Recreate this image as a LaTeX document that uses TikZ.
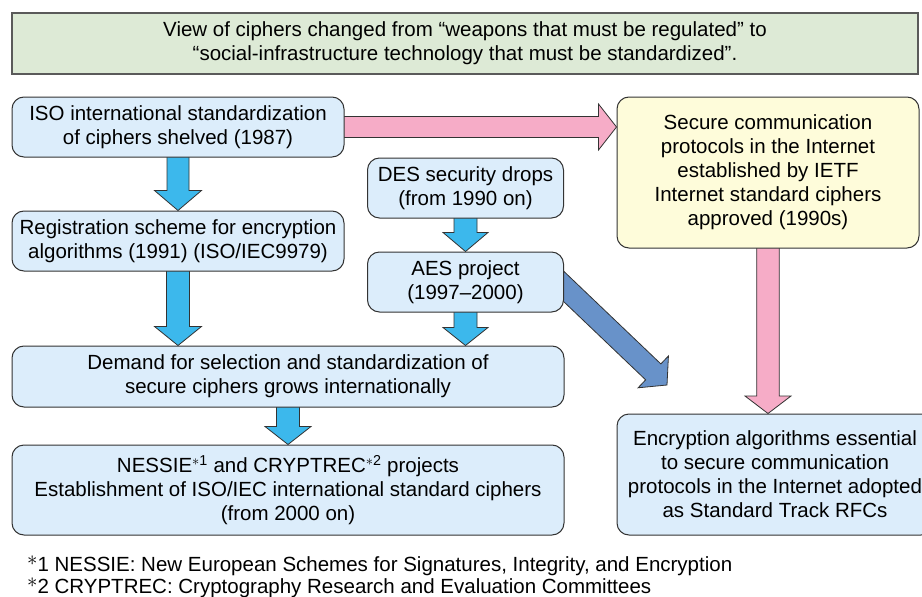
\documentclass[tikz,border=0pt]{standalone}
\usepackage{fontspec}
\setmainfont{Liberation Sans}
\usetikzlibrary{calc,backgrounds}
\definecolor{bannerfill}{HTML}{DDEAD6}
\definecolor{bannerline}{HTML}{5A5A5A}
\definecolor{boxfill}{HTML}{DCEDFB}
\definecolor{yellowfill}{HTML}{FEFCDA}
\definecolor{boxline}{HTML}{333333}
\definecolor{arrowblue}{HTML}{3CB8EC}
\definecolor{pinkarrow}{HTML}{F6ACC7}
\definecolor{diagblue}{HTML}{6892C9}
\newcommand{\mytextsize}{\fontsize{20.5}{24}\selectfont}
\newcommand{\fnast}{\raisebox{0.55ex}{$\ast$}}
% style, start, end, shaft half width, head half width, head length
\newcommand{\blockarrow}[6]{%
  \path ($(#3)!#6!(#2)$) coordinate (bah);
  \draw[#1] ($(#2)!#4!90:(#3)$) -- ($(bah)!#4!90:(#3)$) -- ($(bah)!#5!90:(#3)$) -- (#3)
    -- ($(bah)!#5!-90:(#3)$) -- ($(bah)!#4!-90:(#3)$) -- ($(#2)!#4!-90:(#3)$) -- cycle;
}
\tikzset{
  box/.style={draw=boxline, line width=1pt, rounded corners=12pt, fill=boxfill,
    align=center, inner sep=0pt, font=\mytextsize},
  banner/.style={draw=bannerline, line width=1.3pt, fill=bannerfill,
    align=center, inner sep=0pt, font=\mytextsize},
  fnote/.style={anchor=base west, inner sep=0pt, font=\mytextsize},
  barrow/.style={fill=arrowblue, draw=boxline, line width=0.8pt, line join=miter},
  parrow/.style={fill=pinkarrow, draw=boxline, line width=0.8pt, line join=miter},
  darrow/.style={fill=diagblue, draw=boxline, line width=0.8pt, line join=miter},
}
\begin{document}
\begin{tikzpicture}[x=1pt, y=-1pt]
\useasboundingbox (0,0) rectangle (922,597);
\clip (0,0) rectangle (922,597);

\node[banner, minimum width=906pt, minimum height=61pt] (ban) at (465,43.5)
  {View of ciphers changed from “weapons that must be regulated” to\\
   “social-infrastructure technology that must be standardized”.};

\node[box, minimum width=332pt, minimum height=60pt] (A) at (178,127)
  {ISO international standardization\\of ciphers shelved (1987)};
\node[box, minimum width=332pt, minimum height=60pt] (B) at (178,241)
  {Registration scheme for encryption\\algorithms (1991) (ISO/IEC9979)};
\node[box, minimum width=196pt, minimum height=60pt] (DES) at (465.5,188)
  {DES security drops\\(from 1990 on)};
\node[box, minimum width=196pt, minimum height=60pt] (AES) at (465.5,282)
  {AES project\\(1997–2000)};
\node[box, minimum width=552pt, minimum height=61pt] (DEM) at (288,376.5)
  {Demand for selection and standardization of\\secure ciphers grows internationally};
\node[box, minimum width=552pt, minimum height=90pt] (NES) at (288,490)
  {NESSIE\textsuperscript{$\ast$1} and CRYPTREC\textsuperscript{$\ast$2} projects\\
   Establishment of ISO/IEC international standard ciphers\\(from 2000 on)};
\node[box, fill=yellowfill, minimum width=302pt, minimum height=151pt] (Y) at (768,172.5)
  {Secure communication\\protocols in the Internet\\established by IETF\\
   Internet standard ciphers\\approved (1990s)};
\node[box, minimum width=316pt, minimum height=121pt] (BR) at (775,474.5)
  {Encryption algorithms essential\\to secure communication\\
   protocols in the Internet adopted\\as Standard Track RFCs};

\node[fnote] (fn1) at (27,571)
  {\fnast1 NESSIE: New European Schemes for Signatures, Integrity, and Encryption};
\node[fnote] (fn2) at (27,593)
  {\fnast2 CRYPTREC: Cryptography Research and Evaluation Committees};

\coordinate (dS) at ($(AES.east)+(-24,-18.2)$);
\coordinate (dE) at (667,385);

\begin{pgfonlayer}{background}
  \fill[white] (0,0) rectangle (922,597);
  \blockarrow{parrow}{A.center}{A.center -| Y.west}{10.5pt}{23pt}{18pt}
  \blockarrow{parrow}{Y.center}{Y.center |- BR.north}{11.3pt}{23pt}{17.5pt}
  \blockarrow{barrow}{A.center}{B.north}{11pt}{23.5pt}{20pt}
  \blockarrow{barrow}{B.center}{B.center |- DEM.north}{11.5pt}{23.5pt}{19pt}
  \blockarrow{barrow}{DEM.center}{DEM.center |- NES.north}{11.5pt}{23pt}{18pt}
  \blockarrow{barrow}{DES.center}{AES.north}{11.5pt}{22.5pt}{19pt}
  \blockarrow{barrow}{AES.center}{AES.center |- DEM.north}{11.5pt}{22.5pt}{18pt}
  \blockarrow{darrow}{dS}{dE}{11pt}{22pt}{19pt}
\end{pgfonlayer}
\end{tikzpicture}
\end{document}
